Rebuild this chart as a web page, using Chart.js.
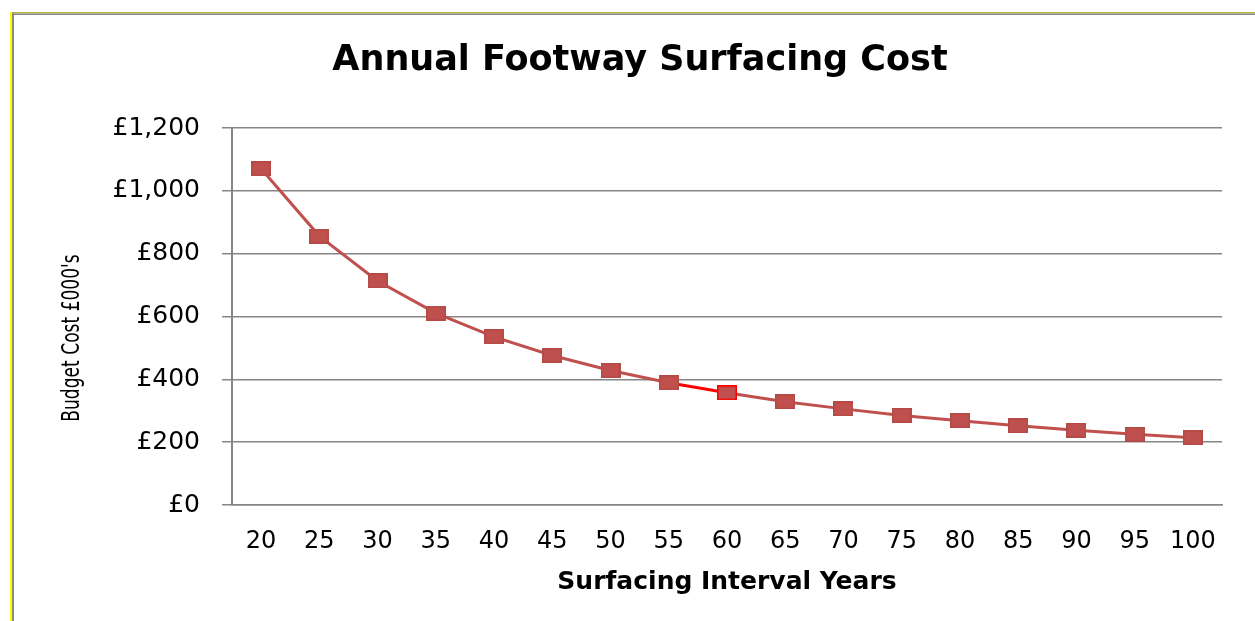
<!DOCTYPE html>
<html>
<head>
<meta charset="utf-8">
<script src="https://cdn.jsdelivr.net/npm/chart.js@4/dist/chart.umd.min.js"></script>
<style>
  html, body { margin: 0; padding: 0; background: #ffffff; }
  #wrap { position: relative; width: 1255px; height: 621px; }
</style>
</head>
<body>
<div id="wrap"><canvas id="chart" width="1255" height="621"></canvas></div>
<script>
// Surfacing interval (years) along the horizontal axis
const intervals = ['20', '25', '30', '35', '40', '45', '50', '55', '60', '65', '70', '75', '80', '85', '90', '95', '100'];
// Annual budget cost in £000's for each interval
const budgetCost = [1070, 856, 713, 611, 535, 476, 428, 389, 357, 329, 306, 285, 268, 252, 238, 225, 214];
// Value-axis tick values
const costTicks = [0, 200, 400, 600, 800, 1000, 1200];

const chartTitle = 'Annual Footway Surfacing Cost';
const xTitle = 'Surfacing Interval Years';
const yTitle = "Budget Cost £000's";

const SERIES = '#C0504D';
const SELECTED = '#FF0000';
const GRID = '#868686';
const selectedIndex = 8;

// Slightly wide rectangular markers
function makeMarker(edge) {
  const c = document.createElement('canvas');
  c.width = 20; c.height = 15;
  const g = c.getContext('2d');
  g.fillStyle = SERIES;
  g.fillRect(0, 0, 20, 15);
  g.strokeStyle = edge;
  g.lineWidth = 1.5;
  g.strokeRect(0.75, 0.75, 18.5, 13.5);
  return c;
}
const marker = makeMarker('#B44A47');
const markerSelected = makeMarker(SELECTED);

// Outer frame along the left and top edges
const framePlugin = {
  id: 'frame',
  afterDraw(chart) {
    const ctx = chart.ctx;
    ctx.save();
    ctx.fillStyle = '#B8B83C';
    ctx.fillRect(10, 12, 1255 - 10, 1.5);
    ctx.fillStyle = '#8A8A8A';
    ctx.fillRect(11, 13.5, 1255 - 11, 1.5);
    ctx.fillStyle = '#FFFF00';
    ctx.fillRect(10, 12, 2, 621 - 12);
    ctx.fillStyle = '#8A8A8A';
    ctx.fillRect(12, 13, 2, 621 - 13);
    ctx.restore();
  }
};

// Rotated value-axis title, placed a little below the plot's middle
const yTitlePlugin = {
  id: 'yTitle',
  afterDraw(chart) {
    const ctx = chart.ctx;
    ctx.save();
    ctx.translate(73, 338);
    ctx.rotate(-Math.PI / 2);
    ctx.scale(0.95, 1.2);
    ctx.font = "20px 'DejaVu Sans Condensed', 'DejaVu Sans', sans-serif";
    ctx.fillStyle = '#000000';
    ctx.textAlign = 'center';
    ctx.textBaseline = 'middle';
    ctx.fillText(yTitle, 0, 0);
    ctx.restore();
  }
};

const fmt = v => '£' + v.toLocaleString('en-GB');

new Chart(document.getElementById('chart'), {
  type: 'line',
  data: {
    labels: intervals,
    datasets: [{
      data: budgetCost,
      borderColor: SERIES,
      borderWidth: 3,
      tension: 0,
      fill: false,
      pointStyle: ctx => ctx.dataIndex === selectedIndex ? markerSelected : marker,
      pointRadius: 8,
      segment: {
        borderColor: ctx => ctx.p1DataIndex === selectedIndex ? SELECTED : undefined
      }
    }]
  },
  options: {
    responsive: false,
    animation: false,
    events: [],
    layout: { padding: { left: 58, right: 33, top: 0, bottom: 0 } },
    plugins: {
      legend: { display: false },
      tooltip: { enabled: false },
      title: {
        display: true,
        text: chartTitle,
        color: '#000000',
        font: { family: 'DejaVu Sans', size: 35, weight: 'bold' },
        padding: { top: 40, bottom: 46 }
      }
    },
    scales: {
      x: {
        type: 'category',
        offset: true,
        grid: { display: false, drawTicks: false },
        border: { display: true, color: GRID, width: 1.5 },
        ticks: {
          color: '#000000',
          padding: 22,
          maxRotation: 0,
          autoSkip: false,
          font: { family: 'DejaVu Sans', size: 24 }
        },
        title: {
          display: true,
          text: xTitle,
          color: '#000000',
          font: { family: 'DejaVu Sans', size: 25, weight: 'bold' },
          padding: { top: 10, bottom: 24 }
        },
        afterFit: s => { s.height = 621 - 505; }
      },
      y: {
        min: 0,
        max: 1200,
        afterBuildTicks: s => { s.ticks = costTicks.map(v => ({ value: v })); },
        grid: { color: GRID, lineWidth: 1.5, tickLength: 10, drawTicks: true },
        border: { display: true, color: GRID, width: 2 },
        ticks: {
          color: '#000000',
          padding: 22,
          font: { family: 'DejaVu Sans', size: 25 },
          callback: v => fmt(v)
        },
        afterFit: s => { s.width = 232 - 58; }
      }
    }
  },
  plugins: [framePlugin, yTitlePlugin]
});
</script>
</body>
</html>
